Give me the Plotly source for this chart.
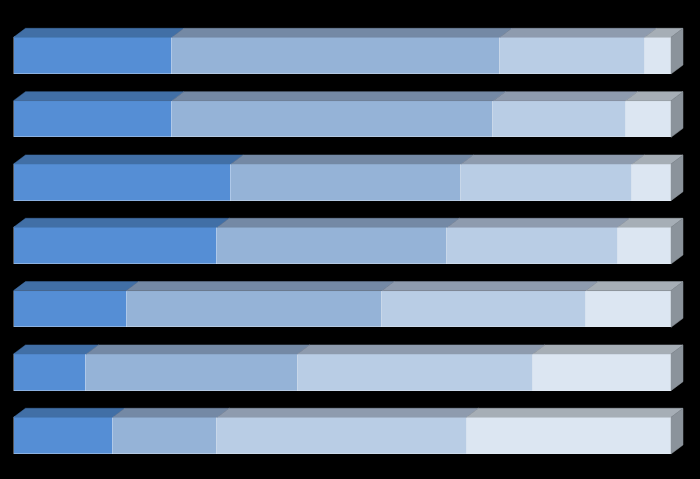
import plotly.graph_objects as go

categories = ["Row 1", "Row 2", "Row 3", "Row 4", "Row 5", "Row 6", "Row 7"]
seg1 = [24.1, 24.1, 33.1, 31.0, 17.2, 11.1, 15.1]
seg2 = [49.9, 48.9, 35.0, 35.0, 38.9, 32.1, 15.9]
seg3 = [22.0, 20.1, 26.0, 25.9, 31.0, 35.8, 37.9]
seg4 = [4.0, 6.9, 5.9, 8.1, 12.9, 21.0, 31.1]

series = [seg1, seg2, seg3, seg4]
front_colors = ["#558ED5", "#95B3D7", "#B9CDE5", "#DCE6F2"]
top_colors = ["#416FA6", "#7489A5", "#8E9BAE", "#A6AEB6"]
side_color = "#8B939B"

W, H = 700, 479
x_left_px, x_right_px = 13.5, 671.0
ppx = (x_right_px - x_left_px) / 100.0
x_range = [-x_left_px / ppx, (W - x_left_px) / ppx]
row_gap_px = 63.33
row0_center_px = 55.65
y_range = [(H - row0_center_px) / row_gap_px, -row0_center_px / row_gap_px]
bar_w = 36.7 / row_gap_px
dx = 12.0 / ppx
dy = 9.0 / row_gap_px

ys = list(range(len(categories)))
fig = go.Figure()

# front faces
for k, vals in enumerate(series):
    fig.add_trace(go.Bar(
        y=ys, x=vals, orientation="h", width=bar_w,
        marker=dict(color=front_colors[k], line=dict(width=0.6, color="rgba(235,240,248,0.6)")),
        hoverinfo="skip", showlegend=False))

# top faces
for k, vals in enumerate(series):
    px, py = [], []
    for i, y in enumerate(ys):
        x0 = sum(series[j][i] for j in range(k))
        x1 = x0 + vals[i]
        yt = y - bar_w / 2
        px += [x0, x1, x1 + dx, x0 + dx, x0, None]
        py += [yt, yt, yt - dy, yt - dy, yt, None]
    fig.add_trace(go.Scatter(x=px, y=py, mode="lines", fill="toself",
                             fillcolor=top_colors[k], line=dict(width=0.5, color=top_colors[k]),
                             hoverinfo="skip", showlegend=False))

# right side faces
px, py = [], []
for i, y in enumerate(ys):
    xe = sum(s[i] for s in series)
    yt = y - bar_w / 2
    yb = y + bar_w / 2
    px += [xe, xe + dx, xe + dx, xe, xe, None]
    py += [yt, yt - dy, yb - dy, yb, yt, None]
fig.add_trace(go.Scatter(x=px, y=py, mode="lines", fill="toself",
                         fillcolor=side_color, line=dict(width=0.5, color=side_color),
                         hoverinfo="skip", showlegend=False))

fig.update_layout(
    width=W, height=H, barmode="stack", bargap=0,
    margin=dict(l=0, r=0, t=0, b=0),
    paper_bgcolor="#000000", plot_bgcolor="#000000",
    xaxis=dict(range=x_range, visible=False, fixedrange=True),
    yaxis=dict(range=y_range, visible=False, fixedrange=True),
)
fig.write_html(
    "out.html",
    config={"displayModeBar": False},
    post_script="document.body.style.margin='0';document.body.style.overflow='hidden';document.body.style.background='#000';",
)
